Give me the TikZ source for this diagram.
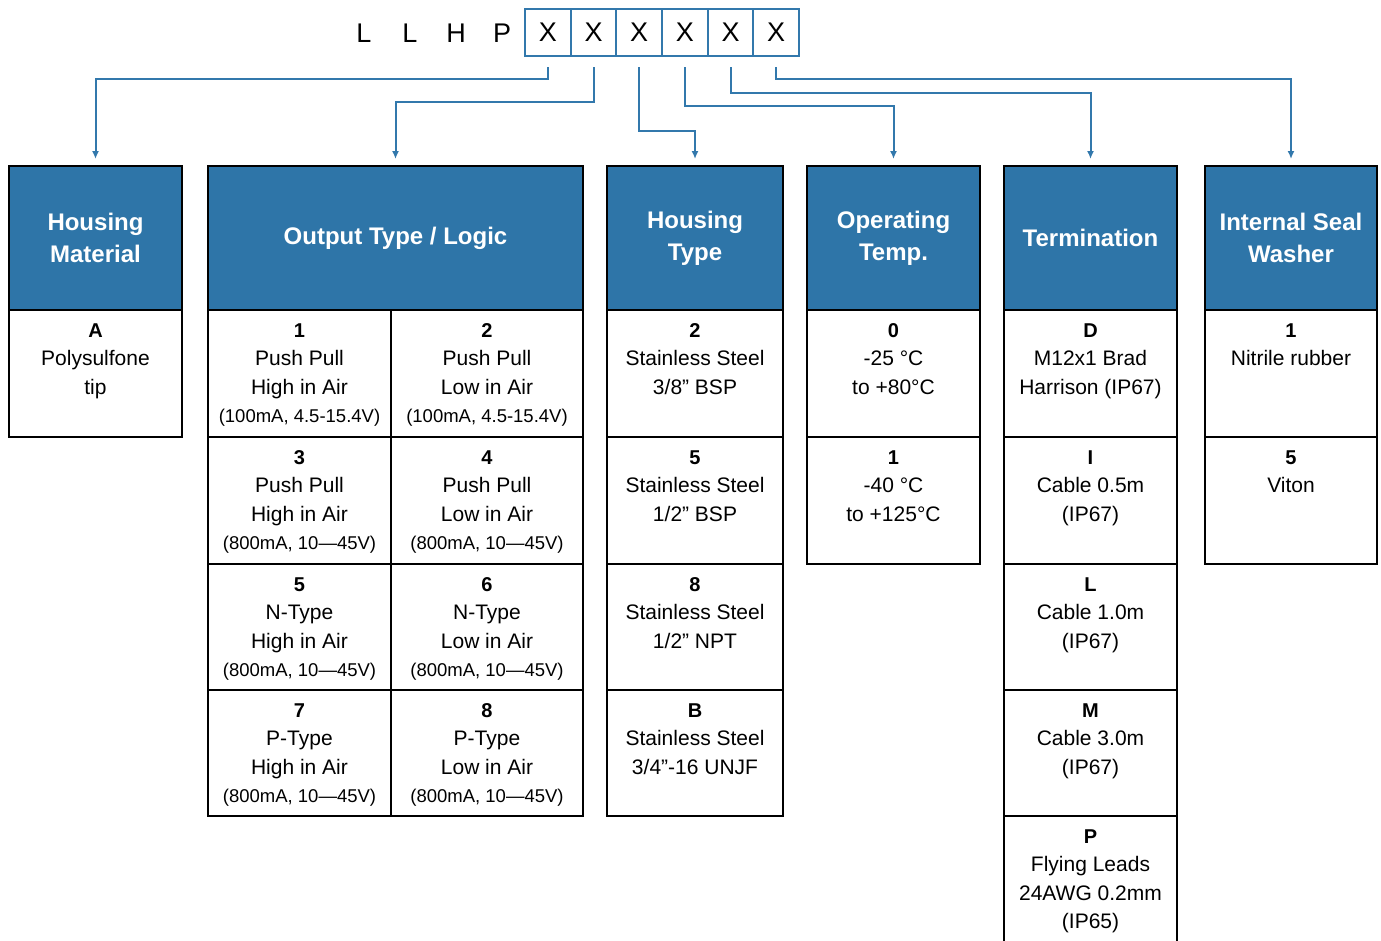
\documentclass[tikz,border=0pt]{standalone}
\usepackage{fontspec}
\setmainfont{Liberation Sans}
\usetikzlibrary{arrows.meta,calc}
\definecolor{hdrblue}{RGB}{46,117,168}
\definecolor{lnblue}{RGB}{50,120,172}
\tikzset{
  cellbox/.style={draw=black,line width=2pt,inner sep=0pt,anchor=north west},
  hdrbox/.style={cellbox,fill=hdrblue,text=white,align=center,
    font=\bfseries\fontsize{24}{32}\selectfont},
  keytxt/.style={inner sep=0pt,anchor=base,font=\bfseries\fontsize{20}{24}\selectfont},
  bodytxt/.style={inner sep=0pt,anchor=base,font=\fontsize{21}{25}\selectfont},
  smalltxt/.style={inner sep=0pt,anchor=base,font=\fontsize{18.5}{22}\selectfont},
  codetxt/.style={inner sep=0pt,font=\fontsize{27}{30}\selectfont},
  xbox/.style={draw=lnblue,line width=2pt,inner sep=0pt,anchor=north west,
    minimum width=45.67pt,minimum height=47pt,font=\fontsize{27}{30}\selectfont},
  conn/.style={draw=lnblue,line width=2pt,-{Latex[length=8pt,width=7pt]},
    shorten <=10pt,shorten >=6pt}
}
% #1 name, #2 x1, #3 y1, #4 x2, #5 y2
\newcommand\cellat[5]{\node[cellbox,minimum width={#4-#2},minimum height={#5-#3}] (#1) at (#2,#3) {};}
\newcommand\hdrat[6]{\node[hdrbox,minimum width={#4-#2},minimum height={#5-#3}] (#1) at (#2,#3) {};
  \node[text=white,align=center,font=\bfseries\fontsize{24}{32}\selectfont] (#1-t) at (#1.center) {#6};}
% #1 cell, #2 line number, #3 style, #4 text
\newcommand\celltext[4]{\node[#3] (#1-#2) at ($(#1.north)+(0,{28+28.6*(#2-1)})$) {#4};}
\newcommand\keyline[2]{\celltext{#1}{1}{keytxt}{#2}}
\begin{document}
\begin{tikzpicture}[x=1pt,y=-1pt]
\useasboundingbox (0,0) rectangle (1381,940);
% part code
\node[codetxt,anchor=base] (cL1) at (364,42) {L};
\node[codetxt,anchor=base] (cL2) at (410,42) {L};
\node[codetxt,anchor=base] (cH) at (456,42) {H};
\node[codetxt,anchor=base] (cP) at (502,42) {P};
\foreach \i in {1,...,6}{
  \node[xbox] (x\i) at ({524+45.67*(\i-1)},8) {X};
}
% headers
\hdrat{hm}{8}{165}{181}{309}{Housing\\Material}
\hdrat{ot}{207}{165}{582}{309}{Output Type / Logic}
\hdrat{ht}{606}{165}{782}{309}{Housing\\Type}
\hdrat{tp}{806}{165}{979}{309}{Operating\\Temp.}
\hdrat{tm}{1003}{165}{1176}{309}{Termination}
\hdrat{sw}{1204}{165}{1376}{309}{Internal Seal\\Washer}
% cells
\cellat{hm1}{8}{309}{181}{436}
\cellat{o1}{207}{309}{390}{436}
\cellat{o2}{390}{309}{582}{436}
\cellat{o3}{207}{436}{390}{563}
\cellat{o4}{390}{436}{582}{563}
\cellat{o5}{207}{563}{390}{689}
\cellat{o6}{390}{563}{582}{689}
\cellat{o7}{207}{689}{390}{815}
\cellat{o8}{390}{689}{582}{815}
\cellat{h1}{606}{309}{782}{436}
\cellat{h2}{606}{436}{782}{563}
\cellat{h3}{606}{563}{782}{689}
\cellat{h4}{606}{689}{782}{815}
\cellat{t1}{806}{309}{979}{436}
\cellat{t2}{806}{436}{979}{563}
\cellat{m1}{1003}{309}{1176}{436}
\cellat{m2}{1003}{436}{1176}{563}
\cellat{m3}{1003}{563}{1176}{689}
\cellat{m4}{1003}{689}{1176}{815}
\cellat{m5}{1003}{815}{1176}{960}
\cellat{s1}{1204}{309}{1376}{436}
\cellat{s2}{1204}{436}{1376}{563}
% cell texts
\keyline{hm1}{A}\celltext{hm1}{2}{bodytxt}{Polysulfone}\celltext{hm1}{3}{bodytxt}{tip}
\keyline{o1}{1}\celltext{o1}{2}{bodytxt}{Push Pull}\celltext{o1}{3}{bodytxt}{High in Air}\celltext{o1}{4}{smalltxt}{(100mA, 4.5-15.4V)}
\keyline{o2}{2}\celltext{o2}{2}{bodytxt}{Push Pull}\celltext{o2}{3}{bodytxt}{Low in Air}\celltext{o2}{4}{smalltxt}{(100mA, 4.5-15.4V)}
\keyline{o3}{3}\celltext{o3}{2}{bodytxt}{Push Pull}\celltext{o3}{3}{bodytxt}{High in Air}\celltext{o3}{4}{smalltxt}{(800mA, 10—45V)}
\keyline{o4}{4}\celltext{o4}{2}{bodytxt}{Push Pull}\celltext{o4}{3}{bodytxt}{Low in Air}\celltext{o4}{4}{smalltxt}{(800mA, 10—45V)}
\keyline{o5}{5}\celltext{o5}{2}{bodytxt}{N-Type}\celltext{o5}{3}{bodytxt}{High in Air}\celltext{o5}{4}{smalltxt}{(800mA, 10—45V)}
\keyline{o6}{6}\celltext{o6}{2}{bodytxt}{N-Type}\celltext{o6}{3}{bodytxt}{Low in Air}\celltext{o6}{4}{smalltxt}{(800mA, 10—45V)}
\keyline{o7}{7}\celltext{o7}{2}{bodytxt}{P-Type}\celltext{o7}{3}{bodytxt}{High in Air}\celltext{o7}{4}{smalltxt}{(800mA, 10—45V)}
\keyline{o8}{8}\celltext{o8}{2}{bodytxt}{P-Type}\celltext{o8}{3}{bodytxt}{Low in Air}\celltext{o8}{4}{smalltxt}{(800mA, 10—45V)}
\keyline{h1}{2}\celltext{h1}{2}{bodytxt}{Stainless Steel}\celltext{h1}{3}{bodytxt}{3/8” BSP}
\keyline{h2}{5}\celltext{h2}{2}{bodytxt}{Stainless Steel}\celltext{h2}{3}{bodytxt}{1/2” BSP}
\keyline{h3}{8}\celltext{h3}{2}{bodytxt}{Stainless Steel}\celltext{h3}{3}{bodytxt}{1/2” NPT}
\keyline{h4}{B}\celltext{h4}{2}{bodytxt}{Stainless Steel}\celltext{h4}{3}{bodytxt}{3/4”-16 UNJF}
\keyline{t1}{0}\celltext{t1}{2}{bodytxt}{-25 °C}\celltext{t1}{3}{bodytxt}{to +80°C}
\keyline{t2}{1}\celltext{t2}{2}{bodytxt}{-40 °C}\celltext{t2}{3}{bodytxt}{to +125°C}
\keyline{m1}{D}\celltext{m1}{2}{bodytxt}{M12x1 Brad}\celltext{m1}{3}{bodytxt}{Harrison (IP67)}
\keyline{m2}{I}\celltext{m2}{2}{bodytxt}{Cable 0.5m}\celltext{m2}{3}{bodytxt}{(IP67)}
\keyline{m3}{L}\celltext{m3}{2}{bodytxt}{Cable 1.0m}\celltext{m3}{3}{bodytxt}{(IP67)}
\keyline{m4}{M}\celltext{m4}{2}{bodytxt}{Cable 3.0m}\celltext{m4}{3}{bodytxt}{(IP67)}
\keyline{m5}{P}\celltext{m5}{2}{bodytxt}{Flying Leads}\celltext{m5}{3}{bodytxt}{24AWG 0.2mm}\celltext{m5}{4}{bodytxt}{(IP65)}
\keyline{s1}{1}\celltext{s1}{2}{bodytxt}{Nitrile rubber}
\keyline{s2}{5}\celltext{s2}{2}{bodytxt}{Viton}
% connectors
\coordinate (r1) at (0,79);
\coordinate (r2) at (0,102);
\coordinate (r3) at (0,131);
\coordinate (r4) at (0,106);
\coordinate (r5) at (0,93);
\coordinate (r6) at (0,79);
\draw[conn] (x1.south) -- (x1.south |- r1) -| (hm.north);
\draw[conn] (x2.south) -- (x2.south |- r2) -| (ot.north);
\draw[conn] (x3.south) -- (x3.south |- r3) -| (ht.north);
\draw[conn] (x4.south) -- (x4.south |- r4) -| (tp.north);
\draw[conn] (x5.south) -- (x5.south |- r5) -| (tm.north);
\draw[conn] (x6.south) -- (x6.south |- r6) -| (sw.north);
\end{tikzpicture}
\end{document}
